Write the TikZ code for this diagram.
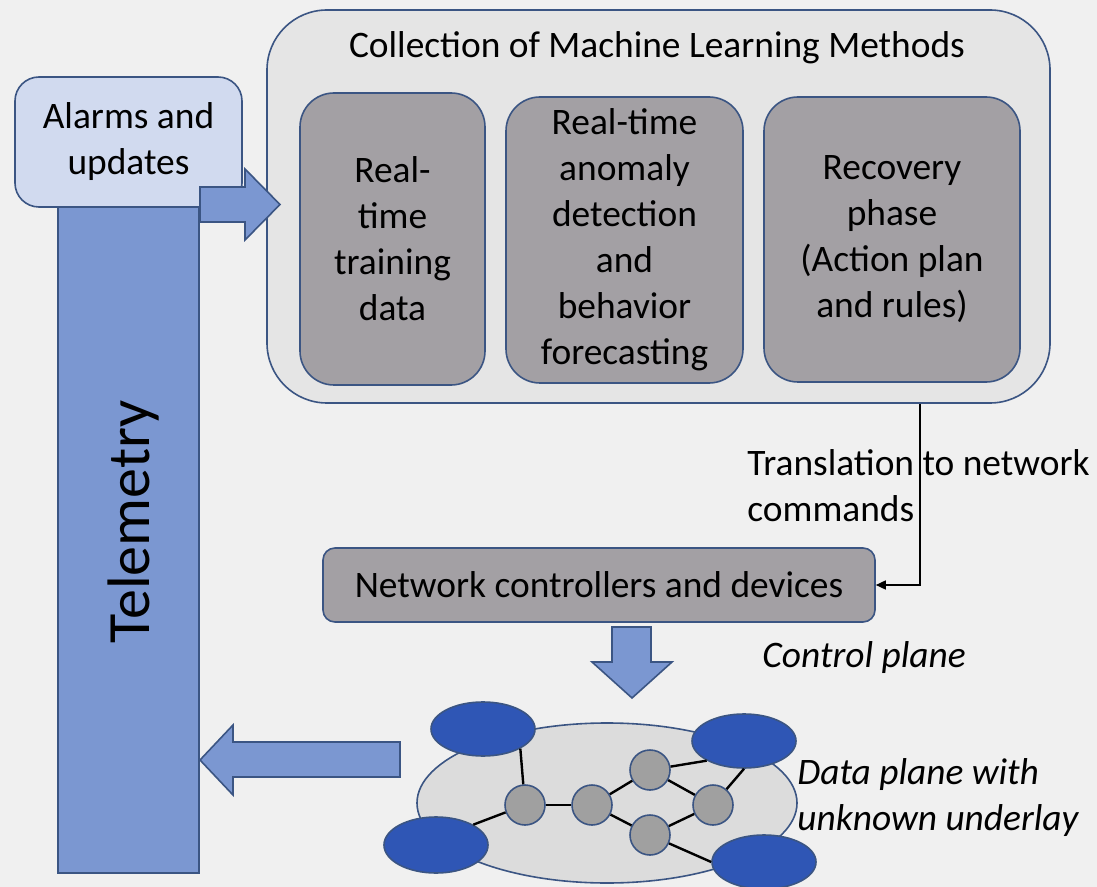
\documentclass[tikz,border=0pt]{standalone}
\usepackage{fontspec}
\setmainfont{Carlito}
\usetikzlibrary{shapes.geometric,arrows.meta}
\definecolor{bg}{HTML}{F0F0F0}
\definecolor{outerfill}{HTML}{E5E5E5}
\definecolor{edgeblue}{HTML}{3B5583}
\definecolor{boxgray}{HTML}{A3A0A4}
\definecolor{alarmfill}{HTML}{D1DAEF}
\definecolor{telefill}{HTML}{7B97D1}
\definecolor{netfill}{HTML}{DCDCDC}
\definecolor{nodeblue}{HTML}{2F56B5}
\definecolor{circgray}{HTML}{A0A0A0}
\begin{document}
\begin{tikzpicture}[x=0.5pt,y=-0.5pt,
  txt/.style={font=\fontsize{18.7pt}{23pt}\selectfont, align=center, text=black},
  itxt/.style={font=\fontsize{18.7pt}{23pt}\selectfont\itshape, align=left, text=black, inner sep=0pt},
  outerbox/.style={draw=edgeblue, fill=outerfill, line width=0.8pt, rounded corners=30pt, inner sep=0pt},
  mlbox/.style={txt, draw=edgeblue, fill=boxgray, line width=0.8pt, rounded corners=17pt, inner sep=0pt},
  alarmbox/.style={txt, draw=edgeblue, fill=alarmfill, line width=0.8pt, rounded corners=12pt, inner sep=0pt},
  telebar/.style={draw=edgeblue, fill=telefill, line width=0.8pt, inner sep=0pt},
  blockarrow/.style={draw=edgeblue, fill=telefill, line width=0.8pt, line join=miter},
  netbg/.style={ellipse, draw=edgeblue, fill=netfill, line width=0.8pt, inner sep=0pt},
  bluenode/.style={ellipse, draw=edgeblue, fill=nodeblue, line width=0.8pt, inner sep=0pt, minimum width=52pt, minimum height=27pt},
  graynode/.style={circle, draw=edgeblue, fill=circgray, line width=0.8pt, inner sep=0pt, minimum size=20pt},
  link/.style={draw=black, line width=1.2pt},
]
\useasboundingbox (0,0) rectangle (1097,887);
\fill[bg] (0,0) rectangle (1097,887);

% Collection box
\node[outerbox, minimum width=391.5pt, minimum height=196.5pt] (outer) at (658.5,206.5) {};
\node[txt] (title) at (657,48) {Collection of Machine Learning Methods};
\node[mlbox, minimum width=92.5pt, minimum height=146pt] (train) at (392.5,239) {Real-\\time\\training\\data};
\node[mlbox, minimum width=118.5pt, minimum height=143pt] (anom) at (624.5,240) {Real-time\\anomaly\\detection\\and\\behavior\\forecasting};
\node[mlbox, minimum width=128pt, minimum height=142.5pt] (recov) at (892,239.5) {Recovery\\phase\\(Action plan\\and rules)};

% Telemetry bar and alarms box
\node[telebar, minimum width=70.5pt, minimum height=334pt] (tele) at (128.5,539) {};
\node[font=\fontsize{30pt}{35pt}\selectfont, rotate=90, inner sep=0pt] (teletxt) at (134,522) {Telemetry};
\node[alarmbox, minimum width=113.5pt, minimum height=65pt] (alarm) at (128.5,142) {Alarms and\\updates};

% block arrow to ML collection
\draw[blockarrow] (200,187) -- (245,187) -- (245,169) -- (280,204.5) -- (245,240) -- (245,222) -- (200,222) -- cycle;

% Network controllers
\node[mlbox, rounded corners=6pt, minimum width=276pt, minimum height=37pt] (ctrl) at (599,585) {Network controllers and devices};
\coordinate (tr) at (920,403);
\draw[line width=0.8pt, -{Triangle[length=5pt,width=4.5pt]}] (outer.south -| tr) |- (ctrl.east);
\node[txt, align=left, anchor=west, inner sep=0pt] (translbl) at (747,486) {Translation to network\\commands};

% down arrow
\draw[blockarrow] (612,627) -- (651,627) -- (651,662) -- (672,662) -- (632,698) -- (592,662) -- (612,662) -- cycle;
\node[itxt, anchor=west] (cplane) at (762,658) {Control plane};

% left arrow
\draw[blockarrow] (400,742) -- (233,742) -- (233,725) -- (200,760) -- (233,795) -- (233,777) -- (400,777) -- cycle;

% data plane
\node[netbg, minimum width=190pt, minimum height=80pt] (net) at (607,803) {};
\node[bluenode] (tl) at (483,729) {};
\node[bluenode] (trn) at (744,741) {};
\node[bluenode, minimum height=28pt] (bl) at (436,845) {};
\node[bluenode] (br) at (764,862) {};
\node[graynode] (a) at (525,805) {};
\node[graynode] (b) at (592,805) {};
\node[graynode] (c) at (650,770) {};
\node[graynode] (d) at (713,805) {};
\node[graynode] (e) at (650,835) {};
\draw[link] (tl.south east) -- (a);
\draw[link] (bl.north east) -- (a);
\draw[link] (a) -- (b);
\draw[link] (b) -- (c);
\draw[link] (b) -- (e);
\draw[link] (c) -- (d);
\draw[link] (c) -- (trn.south west);
\draw[link] (d) -- (trn.south);
\draw[link] (d) -- (e);
\draw[link] (e) -- (br.west);
\node[itxt, anchor=west] (dplane) at (797,798) {Data plane with\\unknown underlay};
\end{tikzpicture}
\end{document}
